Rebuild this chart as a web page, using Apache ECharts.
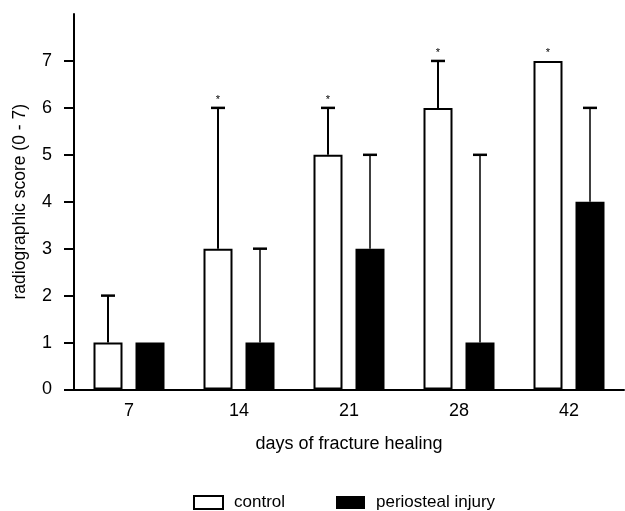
<!DOCTYPE html>
<html>
<head>
<meta charset="utf-8">
<script src="https://cdn.jsdelivr.net/npm/echarts@6/dist/echarts.min.js"></script>
<style>
  html, body { margin: 0; padding: 0; background: #fff; }
  #chart { width: 625px; height: 511px; }
</style>
</head>
<body>
<div id="chart"></div>
<script>
const days = ['7', '14', '21', '28', '42'];
const controlMean = [1, 3, 5, 6, 7];
const controlUpper = [2, 6, 6, 7, 7];
const injuryMean = [1, 1, 3, 1, 4];
const injuryUpper = [1, 3, 5, 5, 6];
const significant = [false, true, true, true, true];
const yTicks = [0, 1, 2, 3, 4, 5, 6, 7];

const FONT = '"Liberation Sans", Arial, sans-serif';
const BAR_W = 29;
const BAR_GAP = 13;
const OFFSET = (BAR_W + BAR_GAP) / 2;

// upward-only error bar with a cap, plus an optional significance star
function errorBar(offset, means, uppers, flags, lw) {
    return function (params, api) {
        const i = api.value(0);
        const mean = means[i];
        const upper = uppers[i];
        const base = api.coord([i, mean]);
        const top = api.coord([i, upper]);
        const x = base[0] + offset;
        const children = [];
        if (upper > mean) {
            children.push({
                type: 'line',
                shape: { x1: x, y1: base[1], x2: x, y2: top[1] },
                style: { stroke: '#000', lineWidth: lw }
            });
            children.push({
                type: 'line',
                shape: { x1: x - 7, y1: top[1], x2: x + 7, y2: top[1] },
                style: { stroke: '#000', lineWidth: 2.5 }
            });
        }
        if (flags && flags[i]) {
            children.push({
                type: 'text',
                style: {
                    text: '*', x: x, y: top[1] - 2,
                    fill: '#000', font: '11px ' + FONT,
                    align: 'center', verticalAlign: 'bottom'
                }
            });
        }
        return { type: 'group', children: children };
    };
}

const chart = echarts.init(document.getElementById('chart'));

chart.setOption({
    animation: false,
    textStyle: { fontFamily: FONT, color: '#000' },
    grid: { left: 74, right: 1, top: 14, bottom: 121.5, containLabel: false },
    legend: {
        left: 188,
        top: 489,
        itemWidth: 29,
        itemHeight: 13,
        itemGap: 51,
        icon: 'rect',
        textStyle: { fontFamily: FONT, fontSize: 17, color: '#000', padding: [0, 0, 0, 6] },
        data: [
            { name: 'control', itemStyle: { color: '#fff', borderColor: '#000', borderWidth: 2 } },
            { name: 'periosteal injury', itemStyle: { color: '#000' } }
        ]
    },
    xAxis: {
        type: 'category',
        data: days,
        name: 'days of fracture healing',
        nameLocation: 'middle',
        nameGap: 46,
        nameTextStyle: { fontFamily: FONT, fontSize: 18, color: '#000' },
        axisLine: { lineStyle: { color: '#000', width: 2 } },
        axisTick: { show: false },
        axisLabel: { fontFamily: FONT, fontSize: 18, color: '#000', margin: 13 }
    },
    yAxis: {
        type: 'value',
        min: 0,
        max: 8,
        interval: 1,
        name: 'radiographic score (0 - 7)',
        nameLocation: 'middle',
        nameGap: 45,
        nameTextStyle: { fontFamily: FONT, fontSize: 17.5, color: '#000' },
        splitLine: { show: false },
        axisLine: { show: true, lineStyle: { color: '#000', width: 2 } },
        axisTick: { show: true, length: 10, lineStyle: { color: '#000', width: 2 }, customValues: yTicks },
        axisLabel: { fontFamily: FONT, fontSize: 18, color: '#000', margin: 22, customValues: yTicks }
    },
    series: [
        {
            name: 'control',
            type: 'bar',
            barWidth: BAR_W,
            barGap: (BAR_GAP / BAR_W * 100) + '%',
            data: controlMean,
            itemStyle: { color: '#fff', borderColor: '#000', borderWidth: 2 },
            z: 3
        },
        {
            name: 'periosteal injury',
            type: 'bar',
            barWidth: BAR_W,
            data: injuryMean,
            itemStyle: { color: '#000' },
            z: 3
        },
        {
            type: 'custom',
            renderItem: errorBar(-OFFSET, controlMean, controlUpper, significant, 2),
            data: days.map((d, i) => [i]),
            z: 2,
            silent: true
        },
        {
            type: 'custom',
            renderItem: errorBar(OFFSET, injuryMean, injuryUpper, null, 1.5),
            data: days.map((d, i) => [i]),
            z: 2,
            silent: true
        }
    ]
});
</script>
</body>
</html>
